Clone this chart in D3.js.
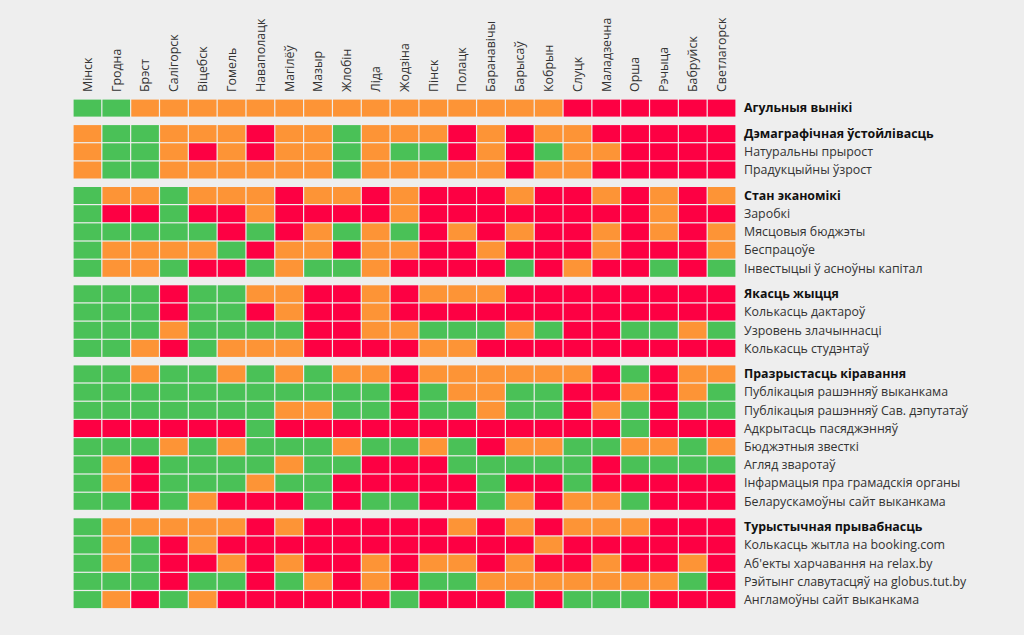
<!DOCTYPE html>
<html>
<head>
<meta charset="utf-8">
<script src="https://cdn.jsdelivr.net/npm/d3@7"></script>
<style>
  html, body { margin: 0; padding: 0; background: #eeeeee; }
  svg { display: block; }
  text { font-family: "Open Sans", "Noto Sans", sans-serif; fill: #222; }
</style>
</head>
<body>
<svg id="chart" width="1024" height="635"></svg>
<script>
// ---------- data ----------
const cities = ["Мінск","Гродна","Брэст","Салігорск","Віцебск","Гомель","Наваполацк","Магілёў","Мазыр","Жлобін","Ліда","Жодзіна","Пінск","Полацк","Баранавічы","Барысаў","Кобрын","Слуцк","Маладзечна","Орша","Рэчыца","Бабруйск","Светлагорск"];

// scores: 2 = good (green), 1 = middle (orange), 0 = bad (red)
const overallLabels = ["Агульныя вынікі"];
const overallScores = [
  [2,2,1,1,1,1,1,1,1,1,1,1,1,1,1,1,1,0,0,0,0,0,0]
];

const demographyLabels = ["Дэмаграфічная ўстойлівасць","Натуральны прырост","Прадукцыйны ўзрост"];
const demographyScores = [
  [1,2,2,1,1,1,0,1,1,2,1,1,1,0,1,0,1,1,0,0,0,0,0],
  [1,2,2,1,0,1,0,1,1,2,1,2,2,0,1,0,2,1,1,0,0,0,0],
  [1,2,2,1,1,1,1,1,1,2,1,1,1,1,1,0,1,1,0,0,0,0,0]
];

const economyLabels = ["Стан эканомікі","Заробкі","Мясцовыя бюджэты","Беспрацоўе","Інвестыцыі ў асноўны капітал"];
const economyScores = [
  [2,1,1,2,1,1,1,0,1,1,0,1,0,0,0,1,0,0,1,0,1,0,1],
  [2,0,0,2,0,0,1,0,0,0,0,1,0,0,0,0,0,0,0,0,1,0,0],
  [2,2,2,2,2,0,2,0,1,2,1,2,0,1,0,1,0,0,1,0,1,0,1],
  [2,1,1,1,1,2,0,1,1,0,1,1,0,0,1,0,0,0,1,0,0,0,1],
  [2,1,1,2,0,0,2,1,2,2,1,0,0,0,0,2,0,1,0,0,2,0,2]
];

const lifeLabels = ["Якасць жыцця","Колькасць дактароў","Узровень злачыннасці","Колькасць студэнтаў"];
const lifeScores = [
  [2,2,2,0,2,2,1,1,0,0,1,0,1,1,1,0,0,0,0,0,0,0,0],
  [2,2,2,0,2,2,0,1,0,0,1,0,0,0,0,0,0,0,0,0,0,0,0],
  [2,2,2,1,2,2,2,2,0,0,1,1,2,2,2,1,2,0,0,2,2,1,2],
  [2,2,1,0,2,1,1,1,0,0,0,0,1,1,0,0,0,0,0,0,0,0,0]
];

const governanceLabels = ["Празрыстасць кіравання","Публікацыя рашэнняў выканкама","Публікацыя рашэнняў Сав. дэпутатаў","Адкрытасць пасяджэнняў","Бюджэтныя звесткі","Агляд зваротаў","Інфармацыя пра грамадскія органы","Беларускамоўны сайт выканкама"];
const governanceScores = [
  [2,2,1,2,2,1,2,1,2,1,1,0,1,1,1,1,1,1,0,2,0,1,1],
  [2,2,2,2,2,2,2,2,2,2,2,0,2,1,1,2,2,0,0,1,0,1,2],
  [2,2,2,2,2,2,2,1,1,2,2,0,2,2,1,2,2,0,1,2,0,2,2],
  [0,0,0,0,0,0,2,0,0,0,0,0,0,0,0,0,0,0,0,2,0,0,0],
  [2,2,2,1,2,1,2,2,2,1,2,2,1,2,0,1,1,2,2,1,1,2,1],
  [2,1,0,2,2,2,2,1,2,2,0,0,0,2,2,2,2,2,0,2,2,2,2],
  [2,1,0,2,2,2,1,2,2,0,0,0,0,0,2,0,0,2,0,0,0,0,0],
  [2,2,0,2,1,0,0,0,2,0,2,2,0,0,2,1,0,1,1,2,0,0,0]
];

const tourismLabels = ["Турыстычная прывабнасць","Колькасць жытла на booking.com","Аб'екты харчавання на relax.by","Рэйтынг славутасцяў на globus.tut.by","Англамоўны сайт выканкама"];
const tourismScores = [
  [2,1,1,1,1,1,0,1,0,0,0,0,0,1,0,1,0,1,1,1,0,0,0],
  [2,1,2,0,1,0,0,0,0,0,0,0,0,0,0,0,1,0,0,0,0,0,0],
  [2,1,2,0,0,1,0,1,0,0,1,0,1,1,0,1,0,0,1,0,0,1,0],
  [2,2,2,0,2,2,0,2,1,0,1,0,2,2,1,1,1,1,1,1,1,2,0],
  [2,1,0,2,1,0,0,0,0,0,0,2,0,0,0,2,0,2,2,2,0,0,0]
];

const groups = [
  {labels: overallLabels, scores: overallScores},
  {labels: demographyLabels, scores: demographyScores},
  {labels: economyLabels, scores: economyScores},
  {labels: lifeLabels, scores: lifeScores},
  {labels: governanceLabels, scores: governanceScores},
  {labels: tourismLabels, scores: tourismScores}
];

// ---------- build rows ----------
const rows = [];
groups.forEach((g, gi) => {
  g.labels.forEach((lab, ri) => {
    rows.push({label: lab, scores: g.scores[ri], group: gi, header: ri === 0});
  });
});

// ---------- layout ----------
const svg = d3.select("#chart");
const gridLeft = 73, gridRight = 736;
const gridTop = 99;
const rowPitch = 18.2;
const groupGap = 7.3;

const x = d3.scaleBand().domain(cities).range([gridLeft, gridRight]).padding(0);
const yBand = d3.scaleBand().domain(d3.range(rows.length)).range([0, rows.length * rowPitch]).padding(0);
const yPos = i => gridTop + yBand(i) + rows[i].group * groupGap;

const color = d3.scaleOrdinal().domain([0, 1, 2]).range(["#fd0043", "#fd9436", "#4ac157"]);

// cells
const cellG = svg.append("g");
rows.forEach((r, i) => {
  cellG.selectAll(null)
    .data(r.scores.map((v, ci) => ({v, city: cities[ci]})))
    .enter().append("rect")
    .attr("x", d => x(d.city) + 0.6)
    .attr("y", yPos(i) + 0.6)
    .attr("width", x.bandwidth() - 1.2)
    .attr("height", yBand.bandwidth() - 1.2)
    .attr("fill", d => color(d.v));
});

// column labels
svg.append("g").selectAll("text")
  .data(cities).enter().append("text")
  .attr("transform", d => `translate(${x(d) + x.bandwidth() / 2},92) rotate(-90)`)
  .attr("dy", "0.35em")
  .attr("text-anchor", "start")
  .style("font-size", "12.4px")
  .style("fill", "#333")
  .text(d => d);

// row labels
svg.append("g").selectAll("text")
  .data(rows).enter().append("text")
  .attr("x", 744)
  .attr("y", (d, i) => yPos(i) + yBand.bandwidth() / 2)
  .attr("dy", "0.35em")
  .style("font-size", "12.4px")
  .style("font-weight", d => d.header ? "bold" : "normal")
  .style("fill", d => d.header ? "#111" : "#333")
  .text(d => d.label);
</script>
</body>
</html>
